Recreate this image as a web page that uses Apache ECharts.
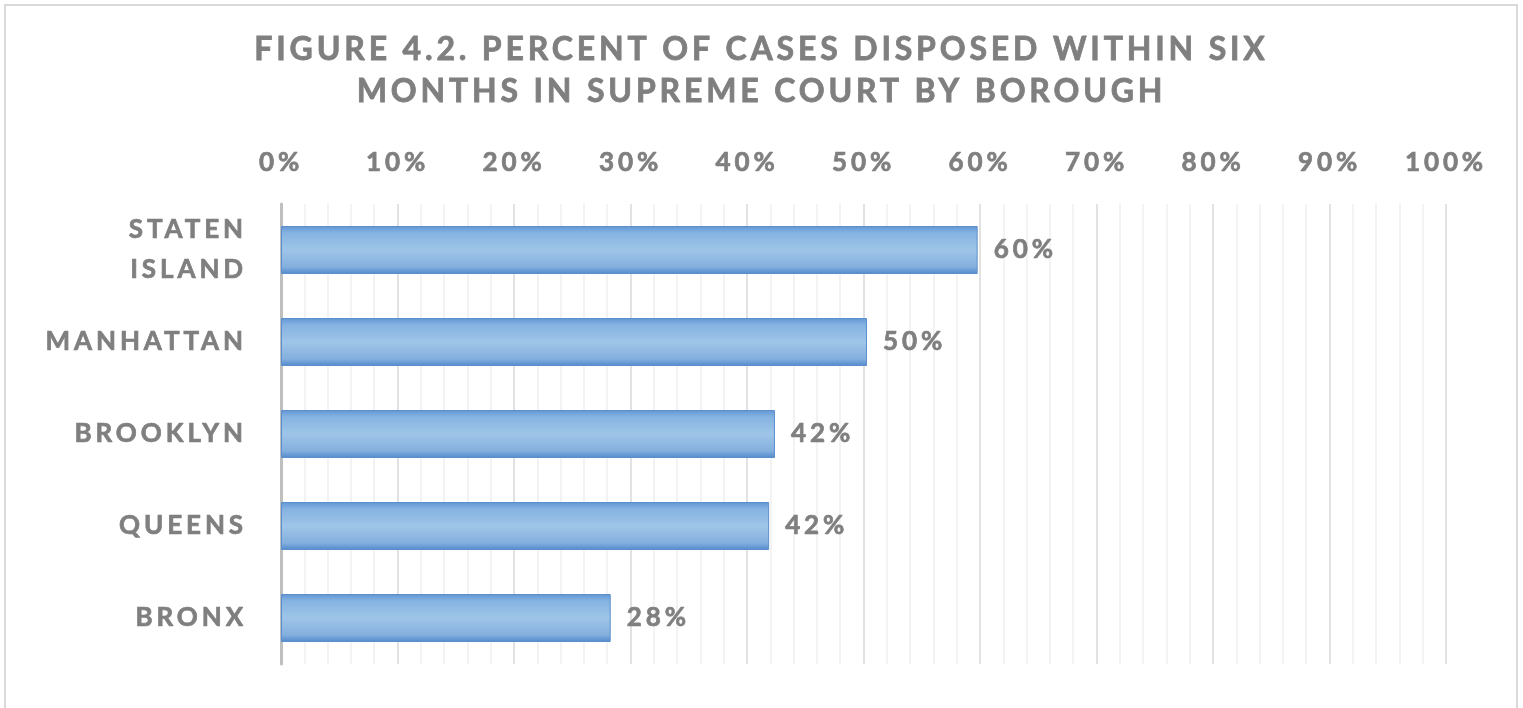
<!DOCTYPE html>
<html>
<head>
<meta charset="utf-8">
<script src="https://cdn.jsdelivr.net/npm/echarts@6/dist/echarts.min.js"></script>
<style>
html,body{margin:0;padding:0;background:#fff;}
#main{width:1523px;height:708px;}
</style>
</head>
<body>
<div id="main"></div>
<script>
// letter-spacing for canvas text (drawn and measured alike)
(function(){
  var P = CanvasRenderingContext2D.prototype;
  function ls(ctx){
    var m = /(\d+(?:\.\d+)?)px/.exec(ctx.font);
    if (m) { var s = parseFloat(m[1]); ctx.letterSpacing = (s * (s >= 30 ? 0.12 : 0.15)).toFixed(2) + 'px'; }
  }
  var f = P.fillText, st = P.strokeText, mt = P.measureText;
  P.fillText = function(){ ls(this); return f.apply(this, arguments); };
  P.strokeText = function(){ ls(this); return st.apply(this, arguments); };
  P.measureText = function(){ ls(this); return mt.apply(this, arguments); };
})();

var titleText = 'FIGURE 4.2. PERCENT OF CASES DISPOSED WITHIN SIX\nMONTHS IN SUPREME COURT BY BOROUGH';
var categories = ['STATEN ISLAND', 'MANHATTAN', 'BROOKLYN', 'QUEENS', 'BRONX'];
var values = [59.8, 50.3, 42.4, 41.9, 28.3];
var xTicks = [0, 10, 20, 30, 40, 50, 60, 70, 80, 90, 100];

var gray = '#7f7f7f';
var font = 'Lato';

var chart = echarts.init(document.getElementById('main'), null, {renderer: 'canvas'});
chart.setOption({
  animation: false,
  backgroundColor: '#ffffff',
  title: {
    text: titleText,
    left: 'center',
    top: 24,
    textStyle: {color: gray, fontFamily: font, fontWeight: 'bold', fontSize: 32, lineHeight: 42,
      textBorderColor: gray, textBorderWidth: 0.8}
  },
  graphic: [{
    type: 'rect',
    shape: {x: 5, y: 5, width: 1512, height: 760},
    style: {fill: 'none', stroke: '#d9d9d9', lineWidth: 2},
    silent: true
  }],
  grid: {left: 281, right: 77, top: 204, bottom: 44, containLabel: false},
  xAxis: {
    type: 'value',
    position: 'top',
    min: xTicks[0],
    max: xTicks[xTicks.length - 1],
    interval: 10,
    axisLine: {show: false},
    axisTick: {show: false},
    axisLabel: {
      formatter: '{value}%',
      color: gray, fontFamily: font, fontWeight: 'bold', fontSize: 26,
      textBorderColor: gray, textBorderWidth: 0.7,
      margin: 26
    },
    splitLine: {show: true, lineStyle: {color: '#d9d9d9', width: 1.5}},
    minorTick: {show: false, splitNumber: 5},
    minorSplitLine: {show: true, lineStyle: {color: '#efefef', width: 1.5}}
  },
  yAxis: {
    type: 'category',
    data: categories,
    inverse: true,
    axisLine: {show: true, lineStyle: {color: '#bfbfbf', width: 3}},
    axisTick: {show: false},
    splitLine: {show: false},
    axisLabel: {
      formatter: function(v){ return v.replace(' ', '\n'); },
      color: gray, fontFamily: font, fontWeight: 'bold', fontSize: 26, lineHeight: 40,
      textBorderColor: gray, textBorderWidth: 0.7,
      margin: 34, align: 'right'
    }
  },
  series: [{
    type: 'bar',
    data: values,
    barWidth: 48,
    itemStyle: {
      color: new echarts.graphic.LinearGradient(0, 0, 0, 1, [
        {offset: 0, color: '#6196d4'},
        {offset: 0.15, color: '#86b3e2'},
        {offset: 0.5, color: '#9fc5e8'},
        {offset: 0.85, color: '#84b0df'},
        {offset: 1, color: '#5289cb'}
      ]),
      borderColor: '#5b8fcc',
      borderWidth: 1
    },
    label: {
      show: true,
      position: 'right',
      distance: 16,
      formatter: function(p){ return Math.round(p.value) + '%'; },
      color: gray, fontFamily: font, fontWeight: 'bold', fontSize: 26,
      textBorderColor: gray, textBorderWidth: 0.7
    }
  }]
});
</script>
</body>
</html>
